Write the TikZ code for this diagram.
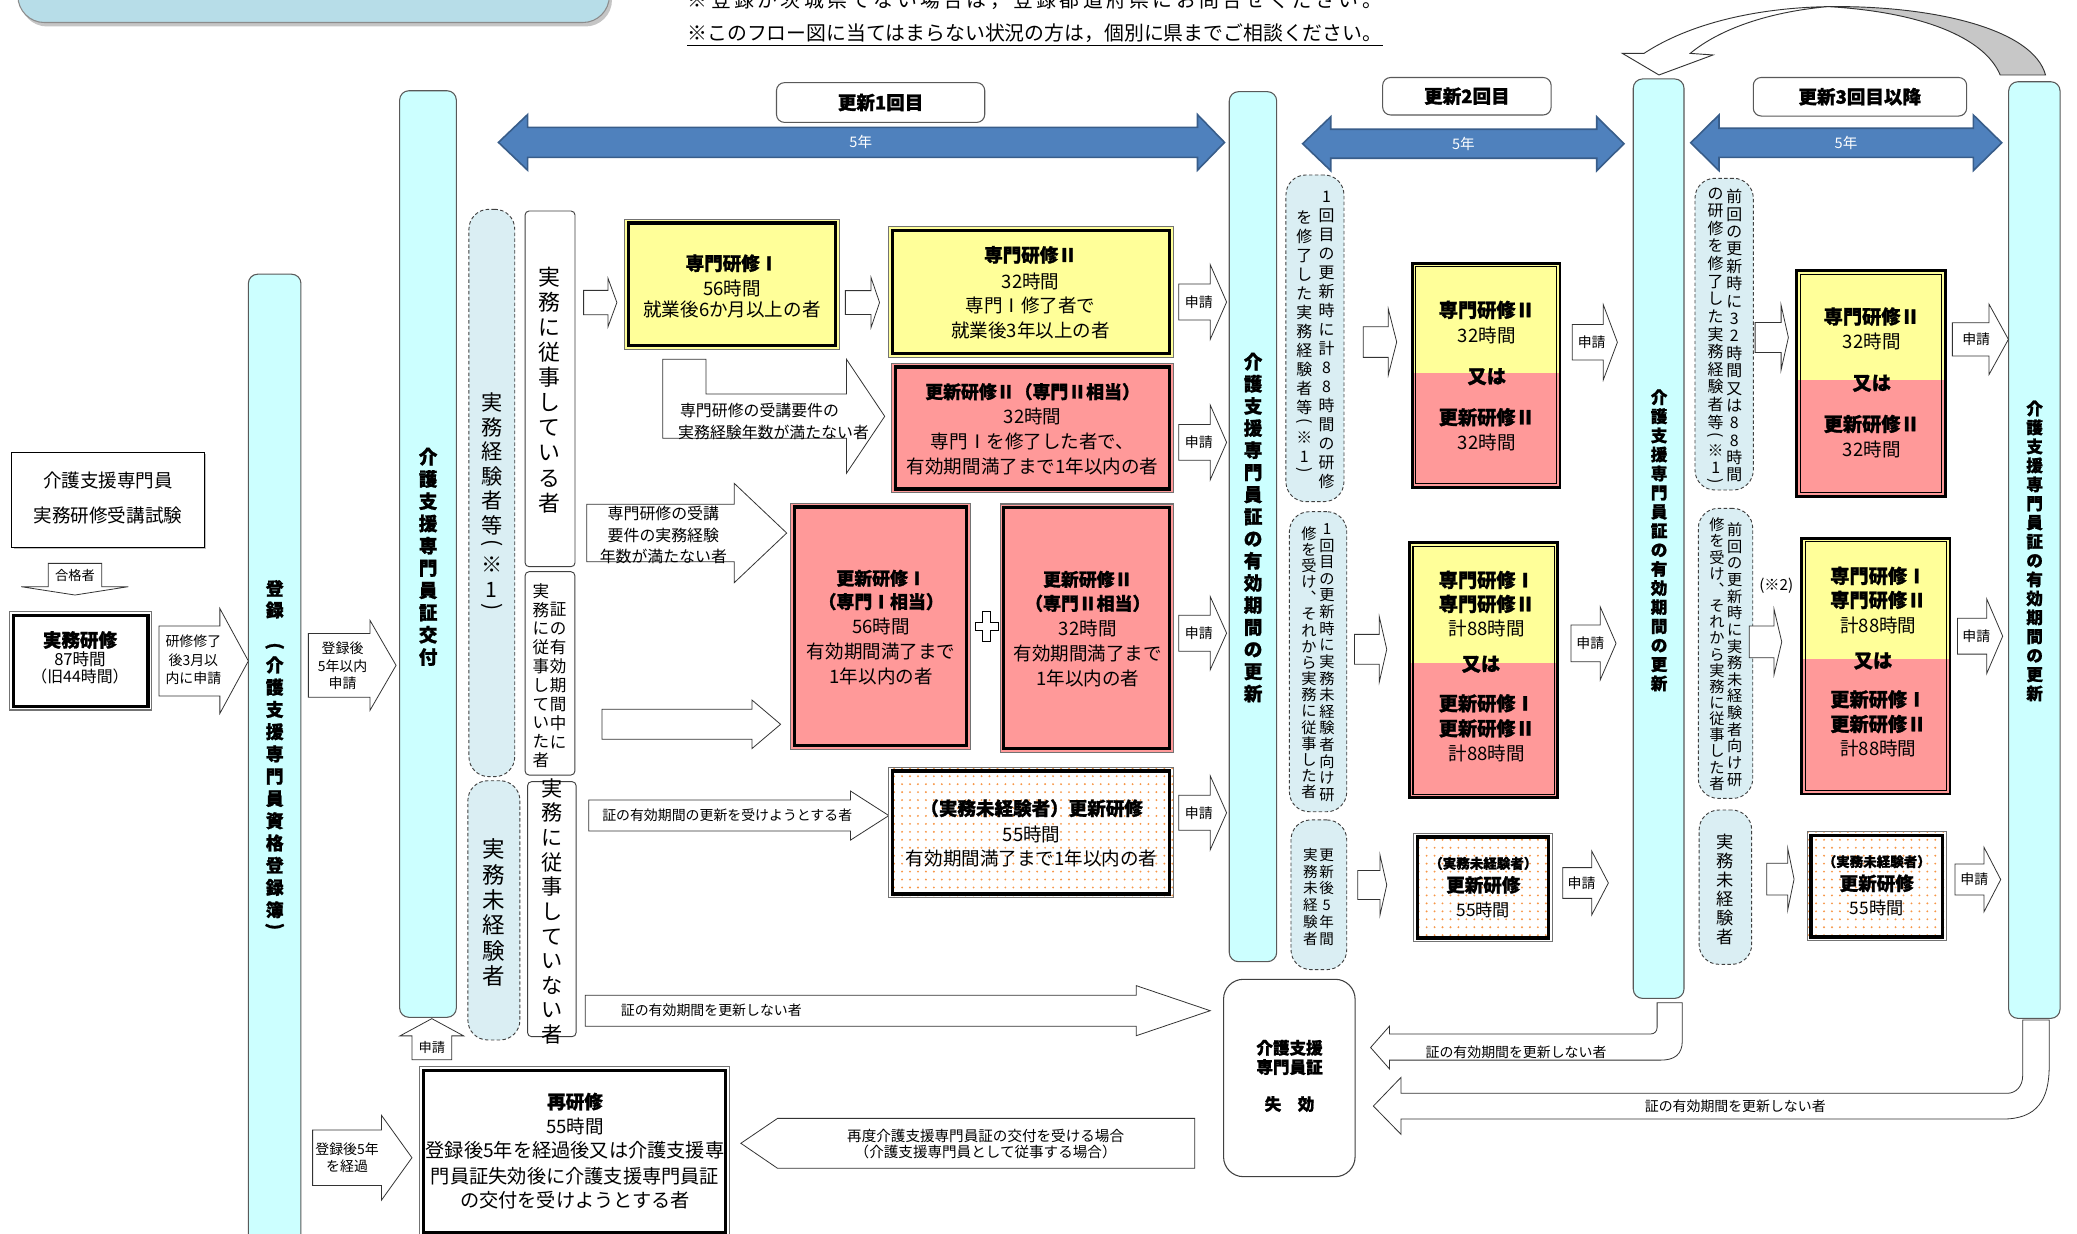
\documentclass[tikz,border=0pt]{standalone}
\usepackage{fontspec}
\usepackage{graphicx}
\setmainfont{Noto Sans CJK JP}[BoldFeatures={FakeBold=1.2}]
\usetikzlibrary{fit,patterns,shadows}
\definecolor{cyanbar}{HTML}{CCFFFF}
\definecolor{dashfill}{HTML}{DAEEF3}
\definecolor{yel}{HTML}{FFFF99}
\definecolor{pnk}{HTML}{FF9999}
\definecolor{blu}{HTML}{4F81BD}
\definecolor{bluedge}{HTML}{385D8A}
\definecolor{topbox}{HTML}{B7DDE8}
\definecolor{dotc}{HTML}{F79646}
\pgfdeclarepatternformonly{odots}{\pgfqpoint{-1pt}{-1pt}}{\pgfqpoint{7pt}{7pt}}{\pgfqpoint{6pt}{6pt}}{\pgfpathcircle{\pgfqpoint{3pt}{3pt}}{0.8pt}\pgfusepath{fill}}
\newdimen\vtstepdim
\def\vtcellN#1{\hbox to 1em{\hss\vbox to\vtstepdim{\vss\hbox{\vrule height.88em depth.12em width0pt\relax#1}\vss}\hss}}
\def\vtcellP#1{\hbox to 1em{\hss\vbox to.6\vtstepdim{\vss\hbox{#1}\vss}\hss}}
\def\vtloop#1{\ifx\relax#1\else\if#1︵\vtcellP{\rotatebox[origin=c]{-90}{(}}\else\if#1︶\vtcellP{\rotatebox[origin=c]{-90}{)}}\else\vtcellN{#1}\fi\fi\expandafter\vtloop\fi}
\newcommand\vt[2]{\vtop{\offinterlineskip\vtstepdim=#1\relax\vtloop#2\relax}}
\newcommand\T[6][]{\node[inner sep=0pt,#1] (#2) at (#3,#4) {\fontsize{#5}{#5}\selectfont #6};}
\newcommand\TB[6][]{\node[inner sep=0pt,#1] (#2) at (#3,#4) {\fontsize{#5}{#5}\selectfont\bfseries #6};}
\newcommand\V[6]{\node[inner sep=0pt] (#1) at (#2,#3) {\fontsize{#4}{#4}\selectfont\vt{#5pt}{#6}};}
\newcommand\VB[6]{\node[inner sep=0pt] (#1) at (#2,#3) {\fontsize{#4}{#4}\selectfont\bfseries\vt{#5pt}{#6}};}
\newcommand\Rect[6][]{\node[fit={(#3,#4) (#5,#6)},inner sep=0pt,#1] (#2) {};}
\newcommand\Inner[3]{\draw[#3] ([xshift=#2pt,yshift=-#2pt]#1.north west) rectangle ([xshift=-#2pt,yshift=#2pt]#1.south east);}
\newcommand\RA[7][]{\draw[blk,#1] (#2,#5-#6) -- (#3,#5-#6) -- (#3,#5-#7) -- (#4,#5) -- (#3,#5+#7) -- (#3,#5+#6) -- (#2,#5+#6) -- cycle;}
\newcommand\DA[7]{\draw[fill=blu,draw=bluedge,line width=1.2pt,line join=miter] (#1,#5) -- (#2,#5-#7) -- (#2,#5-#6) -- (#3,#5-#6) -- (#3,#5-#7) -- (#4,#5) -- (#3,#5+#7) -- (#3,#5+#6) -- (#2,#5+#6) -- (#2,#5+#7) -- cycle;}
\newcommand\DBox[6]{\Rect[fill=#6,dbl]{#1}{#2}{#3}{#4}{#5}\Inner{#1}{3.2}{thickin}}
\newcommand\SBox[6]{\fill[yel] (#2,#3) rectangle (#4,#6); \fill[pnk] (#2,#6) rectangle (#4,#5);
 \Rect[draw=black,line width=2.2pt]{#1}{#2}{#3}{#4}{#5}\Inner{#1}{3.8}{draw=black,line width=0.8pt}}
\newcommand\PBox[5]{\fill[white] (#2,#3) rectangle (#4,#5); \fill[pattern=odots,pattern color=dotc] (#2,#3) rectangle (#4,#5);
 \Rect[dbl]{#1}{#2}{#3}{#4}{#5}\Inner{#1}{3.2}{thickin}}
\begin{document}
\begin{tikzpicture}[x=1pt,y=-1pt,
  blk/.style={draw=black!80,fill=white,line width=0.6pt,line join=miter},
  bar/.style={fill=cyanbar,draw=black!65,line width=0.8pt,rounded corners=7pt},
  dsh/.style={fill=dashfill,draw=black!75,line width=0.7pt,dash pattern=on 2.6pt off 1.8pt,rounded corners=15pt},
  thinr/.style={fill=white,draw=black!75,line width=0.7pt,rounded corners=3pt},
  hdr/.style={fill=white,draw=black!65,line width=0.8pt,rounded corners=6pt},
  dbl/.style={draw=black!55,line width=0.8pt},
  thickin/.style={draw=black,line width=2.4pt}]
\useasboundingbox (0,0) rectangle (1568,931);
\fill[white] (0,0) rectangle (1568,931);
% banner and notes
\path[fill=topbox,draw=black!45,line width=0.8pt,rounded corners=20pt,drop shadow={shadow xshift=2pt,shadow yshift=-3pt,opacity=0.45}] (13.5,-40) rectangle (460,17);
\T{note1}{781.3}{0}{15}{\addfontfeatures{LetterSpace=17}※登録が茨城県でない場合は，登録都道府県にお問合せください。}
\T{note2}{781.3}{25.2}{15}{※このフロー図に当てはまらない状況の方は，個別に県までご相談ください。}
\draw[line width=0.9pt] ([yshift=-2pt]note2.south west) -- ([yshift=-2pt]note2.south east);
% headers
\Rect[hdr]{h1}{586.2}{62.4}{743.4}{92.4}
\TB{h1t}{664.8}{77.4}{14}{更新1回目}
\Rect[hdr]{h2}{1043.8}{58.5}{1171}{86.8}
\TB{h2t}{1107.4}{72.6}{14}{更新2回目}
\Rect[hdr]{h3}{1323.6}{58.5}{1484.7}{87.6}
\TB{h3t}{1404}{73}{14}{更新3回目以降}
% blue period arrows
\DA{376.3}{398.3}{904}{924.4}{107.5}{11.35}{21}
\DA{983.4}{1004.6}{1205.4}{1226}{108.5}{10.95}{20.35}
\DA{1276.4}{1297.7}{1489.7}{1511.2}{107.8}{10.95}{21}
\T[text=white]{y5a}{649.8}{107.5}{11}{5年}
\T[text=white]{y5b}{1104.8}{108.5}{11}{5年}
\T[text=white]{y5c}{1393.6}{107.8}{11}{5年}
% curved arrow at top right
\draw[fill=white,draw=black!80,line width=0.7pt,line join=miter] (1224.8,40.3) -- (1241.1,40.3) .. controls (1275,18) and (1325,6) .. (1380,5) .. controls (1335,9) and (1298,22) .. (1276,40.3) -- (1293.2,41.5) -- (1252.4,56.6) -- cycle;
\draw[fill=black!22,draw=black!80,line width=0.7pt] (1380,5) .. controls (1460,4) and (1535,22) .. (1544.2,56.6) -- (1510,56.6) .. controls (1498,28) and (1450,9) .. (1380,5) -- cycle;
% cyan bars
\Rect[bar]{barA}{187.5}{207}{227.2}{945}
\Rect[bar]{barB}{301.7}{68.5}{344.5}{768}
\Rect[bar]{barC}{928}{69.2}{963.8}{726}
\Rect[bar]{barD}{1233}{59.6}{1271.3}{753.7}
\Rect[bar]{barE}{1516.4}{61.7}{1555.2}{768.8}
\VB{barAt1}{207.4}{452.4}{13.5}{16.3}{登録}
\VB{barAt2}{207.4}{594.4}{13.5}{16.8}{︵介護支援専門員資格登録簿︶}
\VB{barBt}{323.2}{420.4}{14}{16.8}{介護支援専門員証交付}
\VB{barCt}{946}{398.3}{14}{16.7}{介護支援専門員証の有効期間の更新}
\VB{barDt}{1252.5}{407.9}{12.5}{14.4}{介護支援専門員証の有効期間の更新}
\VB{barEt}{1536}{415.9}{12.5}{14.34}{介護支援専門員証の有効期間の更新}
% left: exam, pass, practical training
\Rect[fill=white,draw=black,line width=0.9pt,drop shadow={shadow xshift=1.5pt,shadow yshift=-1.5pt,opacity=0.5}]{exam}{8.8}{341.5}{154.3}{413.2}
\T{examt1}{81.5}{362.9}{14}{介護支援専門員}
\T{examt2}{81.5}{389.3}{14}{実務研修受講試験}
\draw[blk] (36.5,425.3) -- (76.8,425.3) -- (76.8,442.9) -- (96.9,442.9) -- (56.6,449.2) -- (15.9,442.9) -- (36.5,442.9) -- cycle;
\T{pass}{56.6}{434.5}{10}{合格者}
\DBox{jitsumu}{7.5}{461.8}{114.5}{536}{white}
\TB{jit1}{60.4}{483.2}{14}{実務研修}
\T{jit2}{60.4}{497.8}{12.5}{87時間}
\T{jit3}{60.4}{510.9}{12}{（旧44時間）}
\RA{120}{166}{187.5}{499}{26.4}{39.6}
\T{a1t1}{146}{484.4}{10.5}{研修修了}
\T{a1t2}{146}{498.8}{10.5}{後3月以}
\T{a1t3}{146}{512.1}{10.5}{内に申請}
\RA{232.8}{279.3}{299}{502.3}{24.1}{34}
\T{a2t1}{258.6}{489.5}{10.5}{登録後}
\T{a2t2}{258.6}{502.8}{10.5}{5年以内}
\T{a2t3}{258.6}{515.9}{10.5}{申請}
% apply arrow under bar B
\draw[blk] (326,769) -- (350,782) -- (341,782) -- (341,800) -- (311,800) -- (311,782) -- (302,782) -- cycle;
\T{applyB}{326}{791}{10}{申請}
% re-training arrow
\RA{236}{288}{311}{874}{21}{32}
\T{a3t1}{262}{867.5}{10.5}{登録後5年}
\T{a3t2}{262}{880.5}{10.5}{を経過}
% column 1 categories
\Rect[dsh]{d1}{354}{158}{388.6}{586.3}
\Rect[dsh]{d2}{353.2}{589.4}{392.5}{785.1}
\V{d1t}{371.3}{379.9}{16}{18.5}{実務経験者等︵※1︶}
\V{d2t}{372.7}{689}{17}{19.1}{実務未経験者}
\Rect[thinr]{r1}{396.4}{159.3}{434.1}{427.8}
\Rect[thinr]{r2}{396.4}{431.6}{434}{585.1}
\Rect[thinr]{r3}{398.3}{590.1}{434.9}{782.6}
\V{r1t}{414.8}{294.5}{16.5}{18.9}{実務に従事している者}
\V{r2ta}{421.4}{510}{12.5}{14.3}{証の有効期間中に}
\V{r2tb}{408.3}{510}{12.5}{14.2}{実務に従事していた者}
\V{r3t}{416.7}{688}{16}{18.6}{実務に従事していない者}
% column 1 flow
\RA{440.6}{459}{465.7}{228.4}{9.2}{18.3}
\DBox{y1}{471.8}{165.6}{633.6}{263.7}{yel}
\TB{y1a}{552.6}{198.8}{14}{専門研修Ⅰ}
\T{y1b}{552.6}{217.7}{14}{56時間}
\T{y1c}{552.6}{233.3}{14}{就業後6か月以上の者}
\RA{638.2}{657.6}{664}{228.4}{9}{18.8}
\DBox{y2}{671}{171.1}{885.6}{269.8}{yel}
\TB{y2a}{778}{192.5}{14}{専門研修Ⅱ}
\T{y2b}{778}{212.1}{14}{32時間}
\T{y2c}{778}{230.3}{14}{専門Ⅰ修了者で}
\T{y2d}{778}{249.1}{14}{就業後3年以上の者}
\draw[blk] (500.4,271.2) -- (533,271.2) -- (533,297.5) -- (639,297.5) -- (639,271.2) -- (667.9,314.3) -- (639,357.3) -- (639,330.9) -- (500.4,330.9) -- cycle;
\T{bent1}{573.4}{309.5}{12}{専門研修の受講要件の}
\T{bent2}{584}{326.6}{12}{実務経験年数が満たない者}
\DBox{k1}{673.3}{274.3}{885.6}{371.9}{pnk}
\TB{k1a}{779.5}{295.7}{13.5}{更新研修Ⅱ（専門Ⅱ相当）}
\T{k1b}{779.5}{314.6}{14}{32時間}
\T{k1c}{779.5}{333.4}{14}{専門Ⅰを修了した者で、}
\T{k1d}{779.5}{352.3}{14}{有効期間満了まで1年以内の者}
\RA{442.9}{554.3}{593.9}{402.4}{21.7}{37.5}
\T{a4t1}{500.8}{387.5}{12}{専門研修の受講}
\T{a4t2}{500.8}{403.9}{12}{要件の実務経験}
\T{a4t3}{500.8}{420.3}{12}{年数が満たない者}
\DBox{k2}{597}{380}{732.6}{565.7}{pnk}
\TB{k2a}{665.2}{436.6}{13.5}{更新研修Ⅰ}
\TB{k2b}{665.2}{454.2}{13.5}{（専門Ⅰ相当）}
\T{k2c}{665.2}{473.1}{14}{56時間}
\T{k2d}{665.2}{492}{14}{有効期間満了まで}
\T{k2e}{665.2}{510.9}{14}{1年以内の者}
\DBox{k3}{755}{380.5}{885.6}{568}{pnk}
\TB{k3a}{821.2}{437.4}{13.5}{更新研修Ⅱ}
\TB{k3b}{821.2}{455.5}{13.5}{（専門Ⅱ相当）}
\T{k3c}{821.2}{474.3}{14}{32時間}
\T{k3d}{821.2}{493.2}{14}{有効期間満了まで}
\T{k3e}{821.2}{512.1}{14}{1年以内の者}
\draw[fill=white,draw=black,line width=0.9pt] (742,461.7) -- (748,461.7) -- (748,470) -- (753.7,470) -- (753.7,476) -- (748,476) -- (748,484.3) -- (742,484.3) -- (742,476) -- (736.3,476) -- (736.3,470) -- (742,470) -- cycle;
\RA{454.5}{567.7}{589.3}{546.8}{11.35}{18.3}
\RA{444.5}{642.1}{671}{615.7}{11.7}{18.5}
\T{renew}{549}{615.5}{10.5}{証の有効期間の更新を受けようとする者}
\PBox{p1}{671}{579.3}{885.6}{677.7}
\TB{p1a}{778.8}{610.2}{14}{（実務未経験者）更新研修}
\T{p1b}{778.8}{629.6}{14}{55時間}
\T{p1c}{778.8}{648}{14}{有効期間満了まで1年以内の者}
\RA{889.8}{913.6}{926}{228}{13.6}{28.3}
\RA{889.8}{913.6}{926}{334}{13.5}{28.3}
\RA{889.8}{913.6}{926}{478}{13.6}{27.7}
\RA{889.8}{913.6}{926}{613.6}{13.2}{28}
\T{s1}{905}{228}{10.5}{申請}
\T{s2}{905}{334}{10.5}{申請}
\T{s3}{905}{478}{10.5}{申請}
\T{s4}{905}{613.6}{10.5}{申請}
\RA{441.8}{857.8}{913.6}{763}{11.7}{18.9}
\T{nonren}{537}{763}{10.5}{証の有効期間を更新しない者}
% bottom
\DBox{retrain}{317}{805.3}{550.8}{933}{white}
\TB{rt1}{434.1}{831.7}{14}{再研修}
\T{rt2}{434.1}{850.6}{14}{55時間}
\T{rt3}{434.1}{868.2}{14.5}{登録後5年を経過後又は介護支援専}
\T{rt4}{434.1}{888.3}{14.5}{門員証失効後に介護支援専門員証}
\T{rt5}{434.1}{906}{14.5}{の交付を受けようとする者}
\draw[blk] (559.3,863.1) -- (587,844.3) -- (902,844.3) -- (902,882) -- (587,882) -- cycle;
\T{again1}{744.1}{857.6}{11}{再度介護支援専門員証の交付を受ける場合}
\T{again2}{744.1}{869.5}{11}{（介護支援専門員として従事する場合）}
\Rect[fill=white,draw=black!75,line width=0.8pt,rounded corners=15pt]{lapse}{923.7}{739.3}{1023}{888.3}
\TB{lp1}{973.5}{791}{12.5}{介護支援}
\TB{lp2}{973.5}{805.6}{12.5}{専門員証}
\TB{lp3}{973.5}{833.5}{12.5}{失　効}
\draw[blk] (1251,757) -- (1270,757) -- (1270,786) .. controls (1270,796) and (1264,800.3) .. (1254,800.3) -- (1049,800.3) -- (1049,807) -- (1034.7,790.8) -- (1049,774.6) -- (1049,780.6) -- (1246,780.6) .. controls (1249,780.6) and (1251,778.6) .. (1251,775.6) -- cycle;
\T{ret1t}{1144.5}{794}{10.5}{証の有効期間を更新しない者}
\draw[blk] (1527,770) -- (1547,770) -- (1547,805) .. controls (1547,830) and (1538,844.8) .. (1512,844.8) -- (1057.7,844.8) -- (1057.7,856.4) -- (1036.8,835) -- (1057.7,813.3) -- (1057.7,825.4) -- (1515,825.4) .. controls (1522,825.4) and (1527,820) .. (1527,812) -- cycle;
\T{ret2t}{1310}{835}{10.5}{証の有効期間を更新しない者}
% column 2
\Rect[dsh]{d3}{970.8}{132.1}{1014.6}{378.7}
\V{d3a}{1001.5}{256}{12}{14.34}{1回目の更新時に計88時間の研修}
\V{d3b}{984.7}{258.5}{12}{14.34}{を修了した実務経験者等︵※1︶}
\Rect[dsh]{d4}{973.4}{386.3}{1016.7}{612.8}
\V{d4a}{1001.8}{499.5}{11.5}{12.55}{1回目の更新時に実務未経験者向け研}
\V{d4b}{988.2}{500.2}{11.5}{12.2}{修を受け︑それから実務に従事した者}
\Rect[dsh]{d5}{974.6}{619}{1016.7}{732}
\V{d5a}{1001.5}{677}{11}{12.6}{更新後5年間}
\V{d5b}{989.3}{677}{11}{12.6}{実務未経験者}
\RA{1029.2}{1048.1}{1054.4}{258.2}{11.6}{24.8}
\RA{1022.5}{1041.3}{1046.9}{490.2}{11.3}{24.5}
\RA{1025}{1041.8}{1046.9}{668.1}{10.9}{22.7}
\SBox{b1}{1066.2}{198.8}{1177.7}{367.9}{281.8}
\TB{b1a}{1122.4}{234}{14.5}{専門研修Ⅱ}
\T{b1b}{1122.4}{252.9}{14}{32時間}
\TB{b1c}{1122.4}{284.4}{14.5}{又は}
\TB{b1d}{1122.4}{315}{14.5}{更新研修Ⅱ}
\T{b1e}{1122.4}{333.9}{14}{32時間}
\SBox{b2}{1064}{409.7}{1176}{602.2}{500.8}
\TB{b2a}{1122.4}{437.9}{14.5}{専門研修Ⅰ}
\TB{b2b}{1122.4}{456}{14.5}{専門研修Ⅱ}
\T{b2c}{1122.4}{474.4}{14}{計88時間}
\TB{b2d}{1118}{501.5}{14.5}{又は}
\TB{b2e}{1122.4}{531}{14.5}{更新研修Ⅰ}
\TB{b2f}{1122.4}{549.9}{14.5}{更新研修Ⅱ}
\T{b2g}{1122.4}{568.7}{14}{計88時間}
\PBox{p2}{1067}{629.1}{1172}{710.9}
\TB{p2a}{1119.8}{651.8}{10.2}{（実務未経験者）}
\TB{p2b}{1119.8}{668.1}{14}{更新研修}
\T{p2c}{1119.8}{687}{13}{55時間}
\RA{1187}{1210.4}{1221}{258.4}{13.45}{28.3}
\RA{1186}{1208}{1220}{485.7}{13.8}{27.7}
\RA{1179.7}{1201.6}{1214.2}{666.6}{11.6}{24.2}
\T{s5}{1201.6}{258.4}{10.5}{申請}
\T{s6}{1200.6}{485.7}{10.5}{申請}
\T{s7}{1194}{666.6}{10.5}{申請}
% column 3
\Rect[dsh]{d6}{1279.6}{134.6}{1323.6}{369.9}
\V{d6a}{1309.3}{253.5}{12}{13.13}{前回の更新時に32時間又は88時間}
\V{d6b}{1295.2}{253.5}{12}{13.3}{の研修を修了した実務経験者等︵※1︶}
\Rect[dsh]{d7}{1282.1}{383.8}{1323.2}{602.7}
\V{d7a}{1309.6}{494.2}{11.5}{12.55}{前回の更新時に実務未経験者向け研}
\V{d7b}{1296.2}{493.9}{11.5}{12.2}{修を受け︑それから実務に従事した者}
\Rect[dsh]{d8}{1282.7}{611.5}{1322.4}{728}
\V{d8t}{1302.3}{671.3}{13}{14.3}{実務未経験者}
\T{note2x}{1341}{442.4}{11.5}{(※2)}
\RA{1325}{1344.6}{1350.1}{254.8}{11.3}{24.5}
\RA{1320.6}{1339.3}{1345.1}{484.6}{12}{24.6}
\RA{1333.7}{1349.6}{1354.4}{663.7}{12}{23.3}
\SBox{b3}{1356.4}{204.3}{1468.4}{374.5}{286.9}
\TB{b3a}{1413}{239}{14.5}{専門研修Ⅱ}
\T{b3b}{1413}{257.9}{14}{32時間}
\TB{b3c}{1413}{289.4}{14.5}{又は}
\TB{b3d}{1413}{320.1}{14.5}{更新研修Ⅱ}
\T{b3e}{1413}{339.2}{14}{32時間}
\SBox{b4}{1360.2}{406.4}{1472.1}{599.4}{497.8}
\TB{b4a}{1418}{434.8}{14.5}{専門研修Ⅰ}
\TB{b4b}{1418}{453}{14.5}{専門研修Ⅱ}
\T{b4c}{1418}{471.8}{14}{計88時間}
\TB{b4d}{1414}{499}{14.5}{又は}
\TB{b4e}{1418}{528}{14.5}{更新研修Ⅰ}
\TB{b4f}{1418}{546.6}{14.5}{更新研修Ⅱ}
\T{b4g}{1418}{565}{14}{計88時間}
\PBox{p3}{1364.4}{627.9}{1469.2}{710.2}
\TB{p3a}{1416.8}{650.5}{10.2}{（実務未経験者）}
\TB{p3b}{1416.8}{666.9}{14}{更新研修}
\T{p3c}{1416.8}{685.7}{13}{55時間}
\RA{1473.9}{1501.6}{1516.2}{256.2}{12.6}{26.5}
\RA{1477.7}{1499.8}{1511.9}{480.3}{13.5}{28.2}
\RA{1475.9}{1497.8}{1510.4}{664}{11.7}{24.3}
\T{s8}{1491.9}{256.2}{10.5}{申請}
\T{s9}{1492}{480.3}{10.5}{申請}
\T{s10}{1490.5}{664}{10.5}{申請}
\end{tikzpicture}
\end{document}
